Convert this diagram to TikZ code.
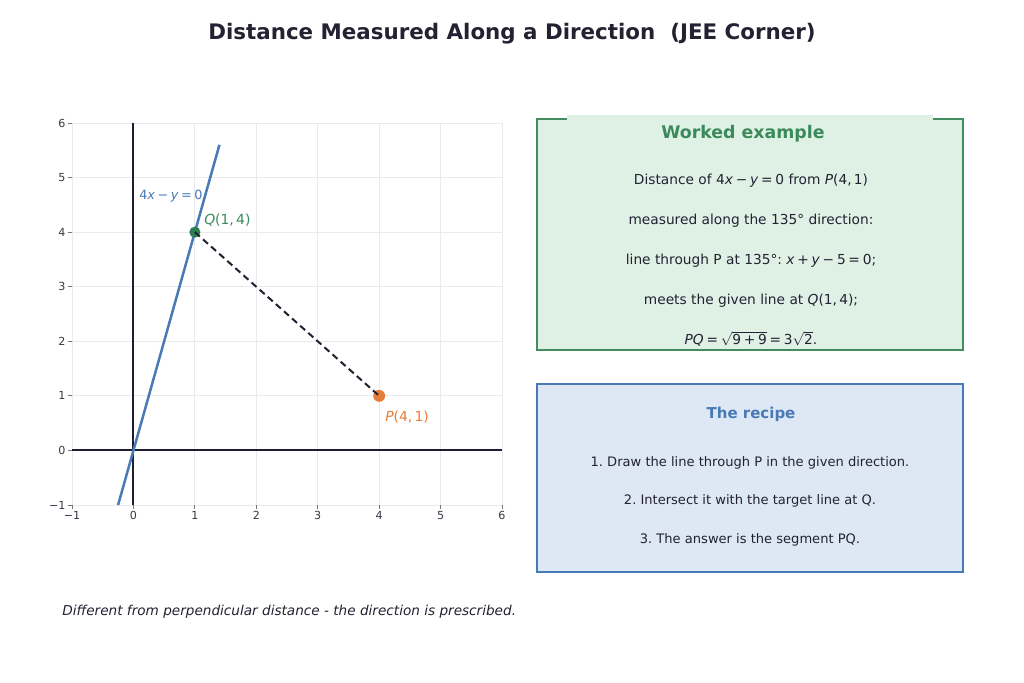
\documentclass[tikz,border=0pt]{standalone}
\usepackage{fontspec}
\setmainfont{DejaVu Sans}
\usepackage{amsmath}
\frenchspacing
\newcommand\mi[1]{\textit{#1}}
\newcommand\op[1]{\hspace{0.2em}#1\hspace{0.2em}}
\definecolor{txt}{RGB}{34,34,51}
\definecolor{gridc}{RGB}{232,234,238}
\definecolor{axisc}{RGB}{30,30,50}
\definecolor{tickc}{RGB}{60,60,60}
\definecolor{lineblue}{RGB}{74,122,181}
\definecolor{gborder}{RGB}{66,140,96}
\definecolor{gfill}{RGB}{223,240,229}
\definecolor{gtitle}{RGB}{58,138,90}
\definecolor{bborder}{RGB}{74,122,181}
\definecolor{bfill}{RGB}{221,232,244}
\definecolor{qdot}{RGB}{46,125,80}
\definecolor{orng}{RGB}{230,126,58}
\tikzset{
  gridline/.style={draw=gridc, line width=0.6pt},
  axisline/.style={draw=axisc, line width=1.4pt},
  tickmark/.style={draw=tickc!70, line width=0.6pt},
  ticklab/.style={text=txt!90, font=\fontsize{8}{9}\selectfont, inner sep=0pt},
  dotnode/.style={circle, inner sep=0pt, minimum size=#1},
  plabel/.style={font=\fontsize{10}{12}\selectfont, inner sep=0pt, anchor=west},
  bodytext/.style={text=txt, font=\fontsize{9.9}{12}\selectfont, inner sep=0pt},
  recipetext/.style={text=txt, font=\fontsize{9.4}{12}\selectfont, inner sep=0pt},
}
\begin{document}
\begin{tikzpicture}[x=0.72pt,y=-0.72pt]
\useasboundingbox (0,0) rectangle (1024,683);
\fill[white] (0,0) rectangle (1024,683);

\node[text=txt, font=\bfseries\fontsize{15.4}{18}\selectfont, inner sep=0pt] (title) at (512,33.5) {Distance Measured Along a Direction\ \ (JEE Corner)};

% ---------- plot ----------
\begin{scope}[shift={(96.07pt,-324.31pt)}, x=44.23pt, y=39.29pt]
  \foreach \i in {-1,...,6} {
    \draw[gridline] (\i,-1) -- (\i,6);
    \draw[gridline] (-1,\i) -- (6,\i);
  }
  \foreach \i/\l in {-1/−1,0/0,1/1,2/2,3/3,4/4,5/5,6/6} {
    \draw[tickmark] (-1,\i) -- ++(-2.6pt,0);
    \node[ticklab, anchor=east] at ([xshift=-4.5pt]-1,\i) {\l};
    \draw[tickmark] (\i,-1) -- ++(0,-2.6pt);
    \node[ticklab, anchor=north] at ([yshift=-4.5pt]\i,-1) {\l};
  }
  \draw[axisline] (-1,0) -- (6,0);
  \draw[axisline] (0,-1) -- (0,6);
  \coordinate (L1) at (-0.25,-1);
  \coordinate (L2) at (1.4,5.6);
  \draw[lineblue, line width=1.8pt] (L1) -- (L2);
  \coordinate (Q) at (1,4);
  \coordinate (P) at (4,1);
  \node[dotnode=8pt, fill=qdot] (Qd) at (Q) {};
  \node[dotnode=8.6pt, fill=orng] (Pd) at (P) {};
  \draw[txt, line width=1.45pt, dash pattern=on 4.8pt off 3pt] (Q) -- (P);
\end{scope}

\node[plabel, text=lineblue, font=\fontsize{9.2}{11}\selectfont] (linelab) at (139,196) {4\mi{x}\op{−}\mi{y}\op{=}0};
\node[plabel, text=gtitle] (qlab) at (204,220) {\mi{Q}(1,\,4)};
\node[plabel, text=orng] (plab) at (385,417) {\mi{P}(4,\,1)};

% ---------- worked example ----------
\draw[gborder, fill=gfill, line width=1.8pt] (537,119) rectangle (963,350);
\fill[gfill] (567,115.5) rectangle (933,122);
\node[text=gtitle, font=\bfseries\fontsize{12.5}{15}\selectfont, inner sep=0pt] (wtitle) at (743,134) {Worked example};
\node[bodytext] (w1) at (751,180.5) {Distance of 4\mi{x}\op{−}\mi{y}\op{=}0 from \mi{P}(4,\,1)};
\node[bodytext] (w2) at (751,220.5) {measured along the 135° direction:};
\node[bodytext] (w3) at (751,260.5) {line through P at 135°: \mi{x}\op{+}\mi{y}\op{−}5\op{=}0;};
\node[bodytext] (w4) at (751,300.5) {meets the given line at \mi{Q}(1,\,4);};
\node[bodytext] (w5) at (751,339) {\mi{PQ}\op{=}$\sqrt{\mbox{9\op{+}9}}$\op{=}3$\sqrt{\mbox{2}}$.};

% ---------- recipe ----------
\draw[bborder, fill=bfill, line width=1.8pt] (537,384) rectangle (963,572);
\node[text=bborder, font=\bfseries\fontsize{10.8}{13}\selectfont, inner sep=0pt] (rtitle) at (751,414.5) {The recipe};
\node[recipetext] (r1) at (750,462.5) {1. Draw the line through P in the given direction.};
\node[recipetext] (r2) at (750,500.5) {2. Intersect it with the target line at Q.};
\node[recipetext] (r3) at (750,539.5) {3. The answer is the segment PQ.};

% ---------- footer ----------
\node[text=txt, font=\itshape\fontsize{9.8}{12}\selectfont, inner sep=0pt, anchor=west] (foot) at (62,611.5) {Different from perpendicular distance - the direction is prescribed.};
\end{tikzpicture}
\end{document}
